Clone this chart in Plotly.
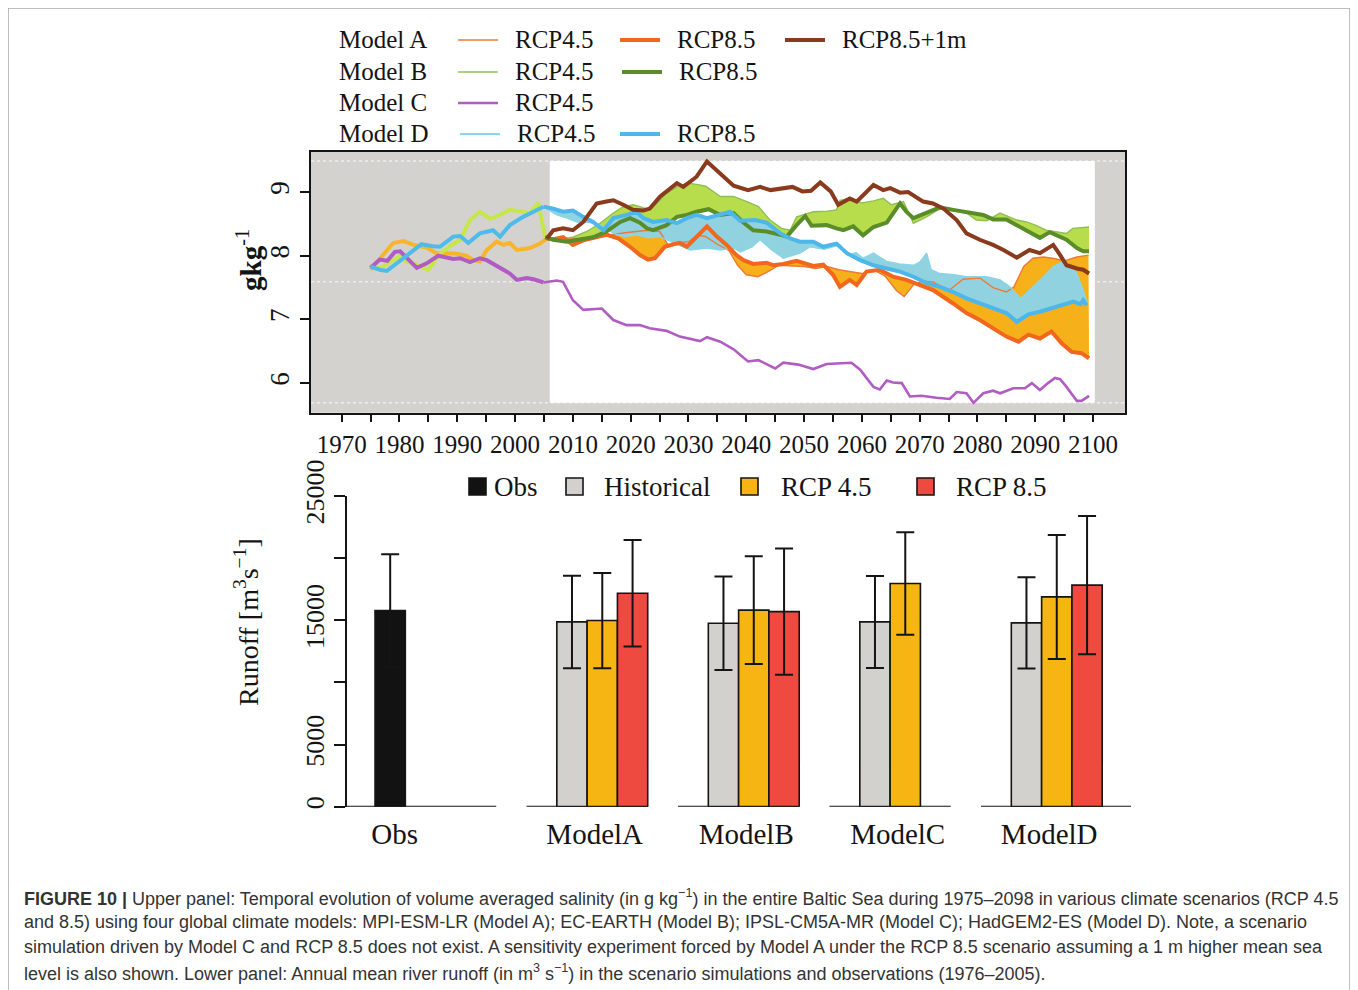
import plotly.graph_objects as go

# ------------------------------------------------------------------
# DATA
# ------------------------------------------------------------------
# Upper panel: volume averaged salinity (g/kg)
A_hist_years = [1975, 1976.9, 1978.9, 1980.7, 1982.4, 1984.7, 1986.4, 1988.2, 1989.9, 1991.6,
                1992.8, 1993.9, 1995.1, 1996.8, 1998, 1999.1, 2000.3, 2002.6, 2004.3, 2005.5]
A_hist = [7.78, 7.98, 8.20, 8.23, 8.17, 8.13, 8.04, 8.04, 8.03, 8.00,
          7.93, 7.91, 8.09, 8.22, 8.17, 8.20, 8.09, 8.12, 8.19, 8.27]

B_hist_years = [1975, 1976.6, 1978.4, 1980, 1981.4, 1983, 1985, 1987, 1989, 1990.5,
                1992.2, 1993.9, 1995.7, 1997.4, 1999.1, 2000.9, 2002.6, 2004, 2005.2]
B_hist = [7.83, 7.80, 7.90, 7.99, 7.90, 7.86, 7.78, 8.03, 8.17, 8.25,
          8.56, 8.69, 8.58, 8.64, 8.72, 8.69, 8.67, 8.83, 8.29]

C_hist_years = [1975, 1976.6, 1977.9, 1979.2, 1980.1, 1983, 1984.7, 1986.7, 1989.3, 1990.5,
                1992.2, 1993.9, 1995.1, 1997.4, 1999.1, 2000.3, 2002, 2003.2, 2004.9]
C_hist = [7.81, 7.94, 7.92, 8.06, 8.07, 7.81, 7.88, 8.00, 7.95, 7.96,
          7.90, 7.96, 7.93, 7.80, 7.72, 7.62, 7.65, 7.63, 7.58]

D_hist_years = [1975, 1976.6, 1977.8, 1979.5, 1981.8, 1983.8, 1985.8, 1987, 1989.3, 1990.5,
                1991.9, 1993.9, 1996.2, 1997.4, 1999.1, 2001.4, 2003.2, 2004.9]
D_hist = [7.83, 7.78, 7.76, 7.88, 8.04, 8.18, 8.15, 8.14, 8.30, 8.31,
          8.20, 8.35, 8.40, 8.30, 8.48, 8.61, 8.69, 8.77]

A_rcp45_years = [2005.5, 2007, 2009, 2011, 2013, 2015, 2017, 2019, 2021, 2023,
                 2025, 2026.5, 2028, 2030, 2031.5, 2033, 2035, 2037, 2038.5, 2040,
                 2042, 2044, 2045.6, 2048, 2050, 2052, 2054, 2056, 2058, 2060,
                 2062, 2064, 2066, 2067.3, 2069, 2070.5, 2072.3, 2075, 2077.5, 2080.4,
                 2082.7, 2085, 2086.3, 2088, 2089.6, 2091.4, 2093, 2095, 2097.2, 2099.2]
A_rcp45 = [8.27, 8.27, 8.26, 8.27, 8.28, 8.31, 8.33, 8.36, 8.38, 8.40,
           8.38, 8.17, 8.20, 8.22, 8.32, 8.30, 8.18, 8.08, 7.85, 7.70,
           7.67, 7.76, 7.85, 7.84, 7.83, 7.80, 7.83, 7.78, 7.75, 7.72,
           7.78, 7.68, 7.45, 7.36, 7.55, 7.60, 7.59, 7.45, 7.63, 7.65,
           7.50, 7.43, 7.51, 7.83, 7.96, 7.98, 7.96, 7.92, 7.98, 8.01]

A_rcp85_years = [2005.5, 2006.6, 2008.3, 2010, 2011.8, 2014.1, 2015.8, 2017.9, 2019.9, 2021.6,
                 2023, 2024.2, 2025.9, 2027.4, 2028.5, 2029.7, 2031.4, 2033.2, 2034.9, 2036.6,
                 2038.3, 2039.5, 2041.2, 2043.5, 2044.7, 2046.4, 2048.7, 2050, 2051.6, 2053.3,
                 2055, 2056.2, 2057.9, 2059.1, 2060.8, 2063.1, 2065.4, 2067.7, 2070, 2072.3,
                 2075.8, 2078.1, 2080.4, 2082.7, 2085, 2087.1, 2088.8, 2090.8, 2092.8, 2094.6,
                 2096.3, 2098, 2099.3]
A_rcp85 = [8.27, 8.26, 8.29, 8.17, 8.24, 8.30, 8.33, 8.27, 8.14, 8.01,
           7.94, 7.96, 8.14, 8.18, 8.20, 8.14, 8.29, 8.46, 8.30, 8.17,
           8.01, 7.93, 7.87, 7.89, 7.85, 7.87, 7.92, 7.89, 7.84, 7.86,
           7.70, 7.51, 7.62, 7.54, 7.75, 7.78, 7.67, 7.62, 7.54, 7.46,
           7.25, 7.10, 6.99, 6.86, 6.73, 6.65, 6.76, 6.70, 6.81, 6.62,
           6.49, 6.47, 6.39]

A_rcp85_1m_years = [2005.5, 2006.6, 2008.3, 2010, 2011.8, 2014.1, 2015.8, 2017, 2018.7, 2020.4,
                    2022.2, 2023.3, 2025.1, 2026.8, 2028, 2029.1, 2031.4, 2033.2, 2035.5, 2037.8,
                    2040.3, 2042.4, 2044.2, 2046.2, 2048, 2049.7, 2051.2, 2052.8, 2054.6, 2055.9,
                    2057.9, 2059.1, 2062, 2063.7, 2064.9, 2066.6, 2068, 2070.6, 2072.3, 2074.1,
                    2076.4, 2078.1, 2080.4, 2082.7, 2084.5, 2086.8, 2089, 2090.8, 2093.1, 2094.3,
                    2095.4, 2097.2, 2098.3, 2099.3]
A_rcp85_1m = [8.27, 8.40, 8.43, 8.40, 8.53, 8.82, 8.85, 8.87, 8.80, 8.72,
              8.71, 8.74, 8.93, 9.06, 9.14, 9.08, 9.24, 9.48, 9.29, 9.10,
              9.03, 9.08, 9.03, 9.05, 9.08, 9.01, 9.02, 9.15, 9.01, 8.80,
              8.90, 8.85, 9.11, 9.03, 9.06, 8.99, 9.00, 8.85, 8.82, 8.74,
              8.56, 8.35, 8.25, 8.17, 8.09, 7.97, 8.09, 8.04, 8.17, 8.01,
              7.85, 7.80, 7.78, 7.72]

B_rcp45_years = [2005.2, 2007.8, 2010, 2012.4, 2014.7, 2017, 2018.7, 2020.4, 2021.6, 2023.3,
                 2024.5, 2026.2, 2028, 2029.7, 2031.4, 2033, 2035.5, 2037.8, 2040.1, 2042.1,
                 2044.1, 2046.1, 2047.6, 2048.7, 2051.6, 2054, 2055.6, 2056.2, 2057.9, 2060,
                 2062, 2063.7, 2065.1, 2067.2, 2068.9, 2071.2, 2073.5, 2076, 2078.1, 2079.8,
                 2081.6, 2083.9, 2086.8, 2088.5, 2090, 2091.9, 2094, 2095.4, 2096.5, 2099.3]
B_rcp45 = [8.29, 8.26, 8.29, 8.38, 8.51, 8.67, 8.77, 8.80, 8.77, 8.72,
           8.82, 8.98, 9.08, 9.14, 9.12, 9.09, 8.93, 8.93, 8.85, 8.77,
           8.56, 8.43, 8.40, 8.61, 8.69, 8.70, 8.72, 8.87, 8.90, 8.83,
           8.86, 8.90, 8.80, 8.85, 8.51, 8.61, 8.74, 8.70, 8.67, 8.56,
           8.55, 8.67, 8.56, 8.53, 8.48, 8.40, 8.37, 8.35, 8.43, 8.45]

B_rcp85_years = [2005.2, 2006.6, 2008.9, 2011.2, 2013.5, 2015.8, 2018.2, 2019.9, 2021.6, 2022.8,
                 2023.9, 2026.2, 2028, 2029.7, 2031.4, 2033.5, 2035.5, 2037.8, 2039.5, 2041.2,
                 2043.5, 2045.9, 2047, 2048.7, 2050.2, 2051.3, 2053.9, 2055.6, 2056.8, 2058.5,
                 2060.2, 2062, 2064.3, 2066.6, 2067.7, 2068.9, 2071.2, 2073.5, 2075.8, 2078.1,
                 2081, 2082.7, 2085, 2086.8, 2089.1, 2090.8, 2092.5, 2094.3, 2095.4, 2097.2,
                 2098.3, 2099.3]
B_rcp85 = [8.29, 8.25, 8.22, 8.25, 8.29, 8.38, 8.53, 8.59, 8.52, 8.43,
           8.40, 8.48, 8.61, 8.64, 8.69, 8.73, 8.64, 8.67, 8.52, 8.40,
           8.38, 8.33, 8.30, 8.48, 8.62, 8.47, 8.48, 8.43, 8.40, 8.46,
           8.32, 8.45, 8.52, 8.82, 8.69, 8.59, 8.67, 8.76, 8.72, 8.69,
           8.64, 8.57, 8.57, 8.48, 8.36, 8.28, 8.37, 8.30, 8.25, 8.12,
           8.07, 8.07]

C_rcp45_years = [2004.9, 2007.2, 2008.3, 2010, 2011.8, 2015, 2017, 2019.3, 2021.6, 2023.3,
                 2026.2, 2028.5, 2032, 2033.2, 2035.5, 2037.8, 2040.3, 2042.1, 2045, 2046.4,
                 2049, 2051.6, 2053.9, 2056.2, 2058.2, 2059.7, 2062, 2063.1, 2064.3, 2065.4,
                 2066.9, 2068.3, 2070.3, 2072.9, 2075.2, 2076.4, 2078.1, 2079.3, 2081, 2082.7,
                 2083.9, 2086.2, 2088.2, 2089.4, 2090.8, 2092.2, 2093.4, 2094.3, 2095.4, 2097.2,
                 2098, 2099.3]
C_rcp45 = [7.58, 7.61, 7.59, 7.30, 7.15, 7.17, 6.99, 6.91, 6.91, 6.86,
           6.82, 6.73, 6.66, 6.72, 6.65, 6.53, 6.34, 6.36, 6.23, 6.32,
           6.29, 6.22, 6.30, 6.31, 6.32, 6.21, 5.94, 5.90, 6.04, 6.01,
           6.00, 5.79, 5.80, 5.77, 5.75, 5.86, 5.84, 5.69, 5.84, 5.88,
           5.84, 5.92, 5.92, 6.00, 5.89, 6.00, 6.08, 6.06, 5.94, 5.72,
           5.72, 5.80]

D_rcp45_years = [2004.9, 2007.2, 2009, 2010.7, 2013, 2015, 2017, 2019, 2021, 2023,
                 2025, 2026.2, 2028, 2030.3, 2033.2, 2035.5, 2037.8, 2039, 2041, 2042.4,
                 2044.3, 2046.4, 2049.3, 2051, 2053.5, 2056.2, 2057.6, 2059, 2060.2, 2062,
                 2064.3, 2066.5, 2068.9, 2070, 2071.2, 2072, 2073.5, 2076, 2078.1, 2081.6,
                 2083.9, 2085.5, 2087.5, 2089.6, 2091.4, 2093.1, 2094.8, 2096, 2097.2, 2098.3,
                 2099]
D_rcp45 = [8.77, 8.64, 8.59, 8.53, 8.52, 8.47, 8.35, 8.30, 8.33, 8.28,
           8.30, 8.25, 8.18, 8.09, 8.12, 8.09, 8.12, 8.06, 8.14, 8.25,
           8.10, 7.96, 8.04, 8.14, 8.10, 8.17, 8.01, 8.05, 7.96, 8.04,
           7.91, 7.87, 7.85, 7.90, 8.04, 7.78, 7.72, 7.70, 7.67, 7.67,
           7.62, 7.52, 7.33, 7.51, 7.67, 7.83, 7.91, 7.85, 7.72, 7.45,
           7.25]

D_rcp85_years = [2004.9, 2006.6, 2008.3, 2010, 2011.8, 2013.5, 2015.3, 2017, 2019.3, 2021,
                 2022.2, 2023.9, 2026.2, 2028, 2029.7, 2031.4, 2033.2, 2035.5, 2037.2, 2038.9,
                 2041.5, 2043.5, 2045.9, 2047.6, 2049.3, 2051.6, 2053.3, 2055.6, 2057.4, 2059.7,
                 2062, 2064.3, 2066.6, 2068.9, 2071.2, 2073.5, 2075.8, 2078.1, 2080.4, 2082.7,
                 2085, 2086.8, 2088.8, 2090.8, 2093.1, 2094.8, 2096.6, 2097.8, 2098.3, 2098.9]
D_rcp85 = [8.77, 8.74, 8.69, 8.71, 8.61, 8.53, 8.40, 8.59, 8.64, 8.69,
           8.59, 8.53, 8.56, 8.51, 8.59, 8.64, 8.59, 8.64, 8.69, 8.55,
           8.56, 8.52, 8.35, 8.27, 8.22, 8.22, 8.14, 8.19, 8.04, 7.93,
           7.85, 7.80, 7.75, 7.67, 7.57, 7.51, 7.43, 7.33, 7.25, 7.17,
           7.10, 6.96, 7.08, 7.12, 7.18, 7.22, 7.28, 7.24, 7.30, 7.22]

# Upper panel axis ticks
year_ticks = list(range(1970, 2101, 5))
sal_ticks = [6, 7, 8, 9]
scenario_period = [2006, 2100.3]          # white (scenario) window
reference_levels = [9.487, 7.59, 5.692]   # dotted guide lines

# Lower panel: annual mean river runoff (m3/s), mean and error half-width
bar_categories = ["Obs", "ModelA", "ModelB", "ModelC", "ModelD"]
obs_runoff = [15780, None, None, None, None]
obs_err = [4540, 0, 0, 0, 0]
hist_runoff = [None, 14870, 14760, 14870, 14790]
hist_err = [0, 3720, 3760, 3700, 3670]
rcp45_runoff = [None, 14980, 15820, 17960, 16880]
rcp45_err = [0, 3830, 4340, 4120, 4990]
rcp85_runoff = [None, 17180, 15700, None, 17830]
rcp85_err = [0, 4280, 5080, 0, 5570]
runoff_ticks = [0, 5000, 10000, 15000, 20000, 25000]
runoff_ticktext = ["0", "5000", "", "15000", "", "25000"]

# ------------------------------------------------------------------
# STYLE
# ------------------------------------------------------------------
W, H = 1358, 990
PAGE_OFFSET = 8          # default page margin of the html body
SERIF = "Liberation Serif"
SANS = "Liberation Sans"
INK = "#141414"

C_A45 = "#EC7A38"
C_A85 = "#F2661E"
C_A1M = "#8A3A1D"
C_B45 = "#8FBF55"
C_B85 = "#5A8D2A"
C_C45 = "#B15CC2"
C_D45 = "#8AD6E8"
C_D85 = "#4DB6EA"
F_A = "#F6B01A"
F_B = "#B7DC4C"
F_D = "#90D2DF"
H_A = "#F8B52A"
H_B = "#C7E64A"
H_C = "#B15CC2"
H_D = "#4FBBEA"
GRAYBG = "#D4D2CF"

BAR_COLORS = {"Obs": "#121212", "Historical": "#D3D1CE", "RCP 4.5": "#F6B513", "RCP 8.5": "#EE4A3F"}


def fx(p):
    return (p - PAGE_OFFSET) / W


def fy(p):
    return 1 - (p - PAGE_OFFSET) / H


fig = go.Figure()

# ---------------- upper panel ----------------
def line(x, y, color, width, name):
    fig.add_trace(go.Scatter(x=x, y=y, mode="lines", name=name,
                             line=dict(color=color, width=width),
                             showlegend=False, hoverinfo="skip",
                             xaxis="x", yaxis="y"))


def band(x1, y1, x2, y2, color):
    fig.add_trace(go.Scatter(x=x1, y=y1, mode="lines", line=dict(width=0, color=color),
                             showlegend=False, hoverinfo="skip", xaxis="x", yaxis="y"))
    fig.add_trace(go.Scatter(x=x2, y=y2, mode="lines", line=dict(width=0, color=color),
                             fill="tonexty", fillcolor=color,
                             showlegend=False, hoverinfo="skip", xaxis="x", yaxis="y"))


band(A_rcp85_years, A_rcp85, A_rcp45_years, A_rcp45, F_A)
band(B_rcp85_years, B_rcp85, B_rcp45_years, B_rcp45, F_B)
band(D_rcp85_years, D_rcp85, D_rcp45_years, D_rcp45, F_D)

line(A_hist_years, A_hist, H_A, 4, "Model A historical")
line(B_hist_years, B_hist, H_B, 4, "Model B historical")
line(C_hist_years, C_hist, H_C, 4, "Model C historical")
line(D_hist_years, D_hist, H_D, 4, "Model D historical")

line(A_rcp45_years, A_rcp45, C_A45, 1.4, "Model A RCP4.5")
line(D_rcp45_years, D_rcp45, C_D45, 1.4, "Model D RCP4.5")
line(B_rcp45_years, B_rcp45, C_B45, 1.4, "Model B RCP4.5")
line(A_rcp85_years, A_rcp85, C_A85, 4, "Model A RCP8.5")
line(B_rcp85_years, B_rcp85, C_B85, 4, "Model B RCP8.5")
line(D_rcp85_years, D_rcp85, C_D85, 4, "Model D RCP8.5")
line(C_rcp45_years, C_rcp45, C_C45, 2.6, "Model C RCP4.5")
line(A_rcp85_1m_years, A_rcp85_1m, C_A1M, 4, "Model A RCP8.5+1m")

# ---------------- lower panel ----------------
n = len(bar_categories)
slot = {"Obs": -0.3, "Historical": -0.1, "RCP 4.5": 0.1, "RCP 8.5": 0.3}
x2_range = [-0.587, 4.59]

# zero-height baseline segments under each group
bx, by = [], []
for i in range(n):
    left = x2_range[0] if i == 0 else i - 0.4
    right = x2_range[1] if i == n - 1 else i + 0.4
    bx += [left, right, None]
    by += [0, 0, None]
fig.add_trace(go.Scatter(x=bx, y=by, mode="lines", line=dict(color=INK, width=2),
                         showlegend=False, hoverinfo="skip", cliponaxis=False,
                         xaxis="x2", yaxis="y2"))

for name, vals, errs in [("Obs", obs_runoff, obs_err),
                         ("Historical", hist_runoff, hist_err),
                         ("RCP 4.5", rcp45_runoff, rcp45_err),
                         ("RCP 8.5", rcp85_runoff, rcp85_err)]:
    fig.add_trace(go.Bar(
        x=[i + slot[name] for i in range(n)], y=vals, width=0.2, name=name,
        marker=dict(color=BAR_COLORS[name], line=dict(color=INK, width=1.6)),
        error_y=dict(type="data", array=errs, visible=True, color=INK, thickness=2, width=9),
        showlegend=False, xaxis="x2", yaxis="y2"))

# ------------------------------------------------------------------
# LAYOUT
# ------------------------------------------------------------------
shapes = []
annotations = []

# outer frame
shapes.append(dict(type="rect", xref="paper", yref="paper", x0=fx(8), x1=fx(1350), y0=fy(1010), y1=fy(8),
                   line=dict(color="#A9A9A9", width=1.5), fillcolor="rgba(0,0,0,0)", layer="below"))
# gray plot background, white scenario window, dotted guides
shapes.append(dict(type="rect", xref="x domain", yref="y domain", x0=0, x1=1, y0=0, y1=1,
                   fillcolor=GRAYBG, line=dict(width=0), layer="below"))
shapes.append(dict(type="rect", xref="x", yref="y", x0=scenario_period[0], x1=scenario_period[1],
                   y0=reference_levels[2], y1=reference_levels[0],
                   fillcolor="white", line=dict(width=0), layer="below"))
for lev in reference_levels:
    shapes.append(dict(type="line", xref="x domain", yref="y", x0=0, x1=1, y0=lev, y1=lev,
                       line=dict(color="#EEEEEE", width=1.5, dash="dot"), layer="below"))

# upper legend
leg_rows = [
    ("Model A", 40, [(C_A45, 1.4, "RCP4.5", 458), (C_A85, 4, "RCP8.5", 620), (C_A1M, 4, "RCP8.5+1m", 785)]),
    ("Model B", 72, [(C_B45, 1.6, "RCP4.5", 458), (C_B85, 4, "RCP8.5", 622)]),
    ("Model C", 103, [(C_C45, 2.6, "RCP4.5", 458)]),
    ("Model D", 134, [(C_D45, 1.8, "RCP4.5", 460), (C_D85, 4, "RCP8.5", 620)]),
]
for label, yc, items in leg_rows:
    annotations.append(dict(text=label, x=fx(337), y=fy(yc), xref="paper", yref="paper",
                            xanchor="left", yanchor="middle", showarrow=False,
                            font=dict(family=SERIF, size=25, color=INK)))
    for color, wdt, txt, x0 in items:
        shapes.append(dict(type="line", xref="paper", yref="paper", x0=fx(x0), x1=fx(x0 + 40),
                           y0=fy(yc), y1=fy(yc), line=dict(color=color, width=wdt)))
        annotations.append(dict(text=txt, x=fx(x0 + 55), y=fy(yc), xref="paper", yref="paper",
                                xanchor="left", yanchor="middle", showarrow=False,
                                font=dict(family=SERIF, size=25, color=INK)))

# upper y title
annotations.append(dict(text="<b>gkg</b><sup>-1</sup>", x=fx(249), y=fy(260), xref="paper", yref="paper",
                        textangle=-90, showarrow=False, xanchor="center", yanchor="middle",
                        font=dict(family=SERIF, size=29, color=INK)))

# lower legend
bar_leg = [("Obs", 469, 492), ("Historical", 566, 602), ("RCP 4.5", 741, 779), ("RCP 8.5", 917, 954)]
for name, sx, tx in bar_leg:
    shapes.append(dict(type="rect", xref="paper", yref="paper", x0=fx(sx), x1=fx(sx + 17),
                       y0=fy(495), y1=fy(478), fillcolor=BAR_COLORS[name],
                       line=dict(color=INK, width=1.6)))
    annotations.append(dict(text=name, x=fx(tx), y=fy(487), xref="paper", yref="paper",
                            xanchor="left", yanchor="middle", showarrow=False,
                            font=dict(family=SERIF, size=27, color=INK)))

# lower y title
annotations.append(dict(text="Runoff [m<sup>3</sup>s<sup>−1</sup>]", x=fx(246), y=fy(622),
                        xref="paper", yref="paper", textangle=-90, showarrow=False,
                        xanchor="center", yanchor="middle",
                        font=dict(family=SERIF, size=28, color=INK)))

# caption
caption = [
    "<b>FIGURE 10 |</b> Upper panel: Temporal evolution of volume averaged salinity (in g kg<sup>−1</sup>) in the entire Baltic Sea during 1975–2098 in various climate scenarios (RCP 4.5",
    "and 8.5) using four global climate models: MPI-ESM-LR (Model A); EC-EARTH (Model B); IPSL-CM5A-MR (Model C); HadGEM2-ES (Model D). Note, a scenario",
    "simulation driven by Model C and RCP 8.5 does not exist. A sensitivity experiment forced by Model A under the RCP 8.5 scenario assuming a 1 m higher mean sea",
    "level is also shown. Lower panel: Annual mean river runoff (in m<sup>3</sup> s<sup>−1</sup>) in the scenario simulations and observations (1976–2005).",
]
for k, txt in enumerate(caption):
    annotations.append(dict(text=txt, x=fx(22), y=fy(897 + 25 * k), xref="paper", yref="paper",
                            xanchor="left", yanchor="middle", showarrow=False,
                            font=dict(family=SANS, size=18, color="#333333")))

fig.update_layout(
    width=W, height=H,
    margin=dict(l=0, r=0, t=0, b=0, pad=0, autoexpand=False),
    paper_bgcolor="white", plot_bgcolor="white",
    showlegend=False,
    barmode="overlay",
    shapes=shapes,
    annotations=annotations,
    xaxis=dict(domain=[fx(311), fx(1125)], anchor="y", range=[1964.69, 2105.52], automargin=False,
               tickvals=year_ticks, ticktext=[str(v) if v % 10 == 0 else "" for v in year_ticks],
               tickangle=0, ticks="outside", ticklen=8, tickwidth=1.5, tickcolor=INK,
               showline=True, linecolor=INK, linewidth=1.5, mirror=True,
               showgrid=False, zeroline=False,
               tickfont=dict(family=SERIF, size=25, color=INK), ticklabelstandoff=1),
    yaxis=dict(domain=[fy(412.7), fy(151.7)], anchor="x", range=[5.535, 9.633], automargin=False,
               tickvals=sal_ticks, tickangle=-90, ticks="outside", ticklen=9, tickwidth=1.5,
               tickcolor=INK, showline=True, linecolor=INK, linewidth=1.5, mirror=True,
               showgrid=False, zeroline=False,
               tickfont=dict(family=SERIF, size=27, color=INK)),
    xaxis2=dict(domain=[fx(346.7), fx(1131)], anchor="y2", range=x2_range, automargin=False,
                tickvals=[-0.3 + 0.03, 1.05, 2.05, 3.05, 4.05], ticktext=bar_categories,
                tickangle=0, ticks="", showline=False, showgrid=False, zeroline=False,
                tickfont=dict(family=SERIF, size=29, color=INK), ticklabelstandoff=7),
    yaxis2=dict(domain=[fy(806.7), fy(496)], anchor="x2", range=[0, 25000], automargin=False,
                tickvals=runoff_ticks, ticktext=runoff_ticktext, tickangle=-90,
                ticks="outside", ticklen=11, tickwidth=1.5, tickcolor=INK,
                showline=True, linecolor=INK, linewidth=1.5, showgrid=False, zeroline=False,
                tickfont=dict(family=SERIF, size=26, color=INK)),
)

fig.write_html("out.html")
